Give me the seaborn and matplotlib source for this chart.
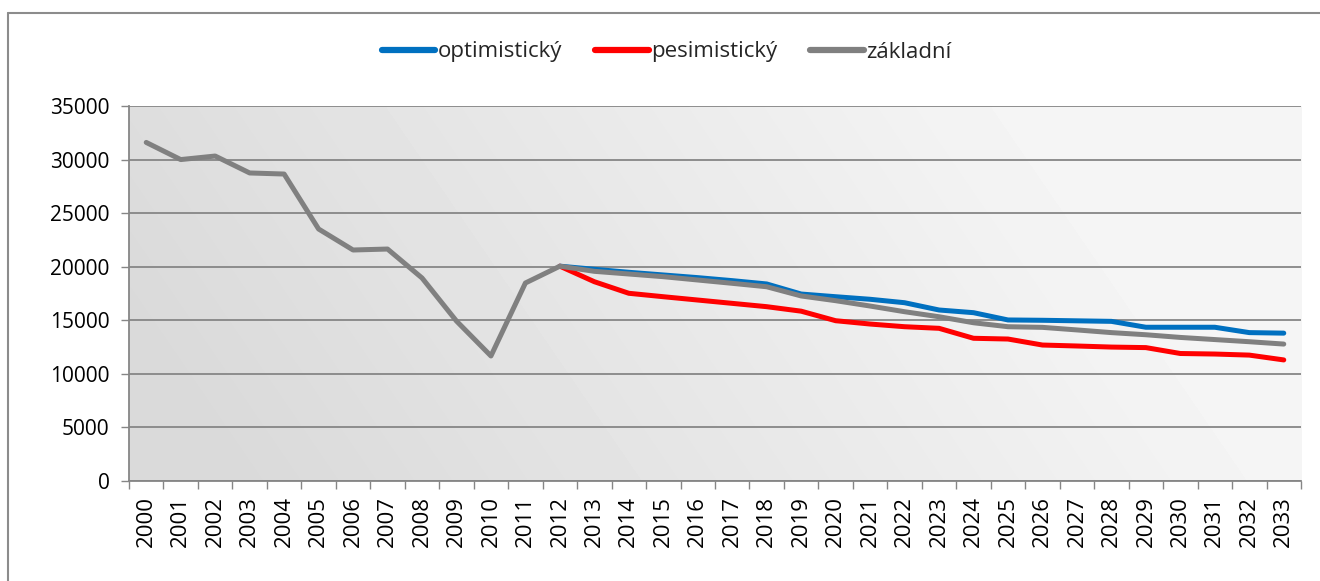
import numpy as np
import pandas as pd
import matplotlib
matplotlib.use("Agg")
import matplotlib.pyplot as plt
from matplotlib.lines import Line2D
import seaborn as sns

years = list(range(2000, 2034))
zakladni = [31600, 30000, 30330, 28750, 28650, 23520, 21560, 21650, 18950, 14930,
            11670, 18480, 20050, 19570, 19320, 19070, 18760, 18450, 18130, 17270,
            16830, 16330, 15800, 15330, 14770, 14400, 14340, 14100, 13850, 13650,
            13400, 13200, 13000, 12780]
proj_years = list(range(2012, 2034))
optimisticky = [20050, 19760, 19480, 19230, 18980, 18700, 18390, 17450, 17200, 16960,
                16640, 15960, 15710, 15030, 15000, 14950, 14900, 14350, 14350, 14350,
                13850, 13800]
pesimisticky = [20050, 18600, 17520, 17200, 16890, 16580, 16270, 15850, 14960, 14650,
                14400, 14250, 13320, 13250, 12690, 12600, 12500, 12450, 11900, 11850,
                11750, 11300]
series_names = ["optimistický", "pesimistický", "základní"]
colors = {"optimistický": "#0070C0", "pesimistický": "#FF0000", "základní": "#808080"}
yticks = [0, 5000, 10000, 15000, 20000, 25000, 30000, 35000]

rows = []
for y, v in zip(proj_years, optimisticky):
    rows.append(("optimistický", years.index(y), v))
for y, v in zip(proj_years, pesimisticky):
    rows.append(("pesimistický", years.index(y), v))
for y, v in zip(years, zakladni):
    rows.append(("základní", years.index(y), v))
df = pd.DataFrame(rows, columns=["serie", "pos", "value"])

sns.set_theme(style="white")
plt.rcParams["font.family"] = ["Open Sans", "DejaVu Sans"]

fig = plt.figure(figsize=(13.2, 5.81), dpi=100)
ax = fig.add_axes([129 / 1320, 1 - 481 / 581, (1301 - 129) / 1320, (481 - 106) / 581])
ax.set_facecolor("none")

# background gradient
gx = np.linspace(0, 1, 300)
gy = np.linspace(0, 1, 100)
GX, GY = np.meshgrid(gx, gy)
t = np.clip(GX * 1.15 + (GY - 0.5) * 0.25, 0, 1)
grad = 0.855 + 0.105 * t
ax.imshow(grad, cmap="gray", vmin=0, vmax=1, extent=[0, 1, 0, 1], transform=ax.transAxes,
          aspect="auto", origin="lower", zorder=0, interpolation="bilinear")

sns.lineplot(data=df, x="pos", y="value", hue="serie", hue_order=series_names,
             palette=colors, linewidth=3.6, ax=ax, legend=False, zorder=3,
             solid_capstyle="round", sort=False, estimator=None)

ax.set_xlim(-0.5, len(years) - 0.5)
ax.set_ylim(0, 35000)
ax.set_yticks(yticks)
ax.set_yticklabels([str(v) for v in yticks], fontsize=15)
ax.yaxis.grid(True, color="#868686", linewidth=1.3)
ax.set_axisbelow(True)
ax.tick_params(axis="y", which="major", direction="out", length=6, color="#868686",
               width=1, pad=8, left=True, labelcolor="black")

ax.set_xticks([i - 0.5 for i in range(len(years) + 1)])
ax.set_xticklabels([])
ax.set_xticks(list(range(len(years))), minor=True)
ax.set_xticklabels([str(y) for y in years], minor=True, rotation=90, fontsize=16)
ax.tick_params(axis="x", which="major", direction="out", length=6, color="#868686",
               width=1, bottom=True)
ax.tick_params(axis="x", which="minor", length=0, pad=11, labelcolor="black")

for s in ["top", "right"]:
    ax.spines[s].set_visible(False)
for s in ["left", "bottom"]:
    ax.spines[s].set_color("#868686")
    ax.spines[s].set_linewidth(1.3)
ax.set_xlabel("")
ax.set_ylabel("")

handles = [Line2D([0], [0], color=colors[n], linewidth=4.5, solid_capstyle="round") for n in series_names]
fig.legend(handles, series_names, loc="center", bbox_to_anchor=(0.505, 1 - 52 / 581), ncol=3,
           frameon=False, fontsize=16, handlelength=2.4, handletextpad=0.1, columnspacing=1.5)

# outer chart border (left and top visible)
fig.add_artist(Line2D([8 / 1320, 8 / 1320], [0, 1 - 13 / 581], color="#8c8c8c", linewidth=1.5,
                      transform=fig.transFigure))
fig.add_artist(Line2D([8 / 1320, 1], [1 - 13 / 581, 1 - 13 / 581], color="#8c8c8c", linewidth=1.5,
                      transform=fig.transFigure))

fig.savefig("out.png", dpi=100)
